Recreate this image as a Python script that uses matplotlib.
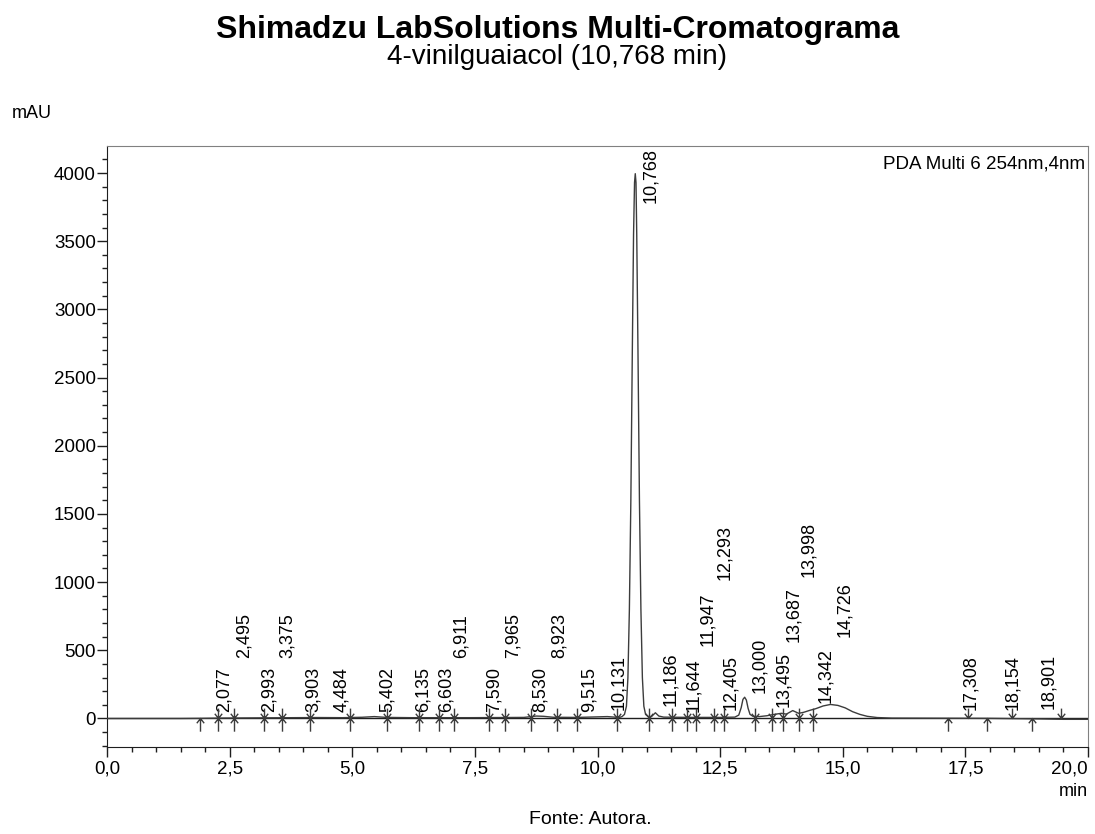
import numpy as np
import matplotlib
matplotlib.use("Agg")
import matplotlib.pyplot as plt
from matplotlib.path import Path
from matplotlib.ticker import MultipleLocator, FuncFormatter
import matplotlib.transforms as mtransforms

plt.rcParams['font.family'] = ['Liberation Sans', 'DejaVu Sans']

# detector trace (min, mAU)
trace_t = [0.0, 1.5, 1.9, 2.3, 2.8, 3.3, 3.8, 4.3, 4.8, 5.2, 5.45, 5.7, 6.2, 6.8,
           7.4, 8.0, 8.5, 8.75, 8.9, 9.1, 9.6, 10.0, 10.2, 10.35, 10.45,
           10.50, 10.55, 10.59, 10.62, 10.65, 10.68, 10.71, 10.735, 10.755,
           10.77, 10.785, 10.80, 10.825, 10.855, 10.885, 10.915, 10.945,
           10.98, 11.03, 11.10, 11.18, 11.25, 11.35, 11.6, 12.0, 12.5, 12.8,
           12.88, 12.93, 12.965, 13.0, 13.035, 13.07, 13.11, 13.17, 13.3,
           13.45, 13.6, 13.75, 13.85, 13.98, 14.1, 14.2, 14.33, 14.45, 14.6,
           14.75, 14.9, 15.05, 15.2, 15.35, 15.5, 15.7, 16.0, 17.0, 18.0,
           19.0, 19.5, 20.0]
trace_y = [0, 0, 1, 3, 4, 5, 6, 7, 6, 9, 14, 8, 6, 6,
           6, 7, 8, 18, 16, 9, 8, 12, 14, 10, 8,
           14, 30, 90, 300, 800, 1600, 2700, 3550, 3930,
           3995, 3930, 3550, 2700, 1600, 800, 300, 90,
           30, 15, 14, 42, 18, 10, 9, 8, 8, 10,
           25, 80, 140, 156, 135, 75, 30, 16, 14,
           20, 30, 38, 32, 58, 38, 45, 60, 72, 92,
           103, 96, 78, 50, 30, 16, 7, 3, 2, 1,
           -3, -6, -6]

# retention times and the height where each label starts (mAU)
peak_rt = [2.077, 2.495, 2.993, 3.375, 3.903, 4.484, 5.402, 6.135, 6.603,
           6.911, 7.590, 7.965, 8.530, 8.923, 9.515, 10.131, 10.768, 11.186,
           11.644, 11.947, 12.293, 12.405, 13.000, 13.495, 13.687, 13.998,
           14.342, 14.726, 17.308, 18.154, 18.901]
label_y = [48, 444, 48, 444, 48, 48, 48, 48, 48,
           444, 48, 444, 48, 444, 48, 60, 3780, 95,
           48, 535, 1013, 59, 190, 81, 558, 1035,
           117, 594, 59, 59, 73]

# integration marks: s = start, b = boundary, e = end
mark_t = [1.89, 2.26, 2.59, 3.20, 3.56, 4.13, 4.95, 5.70, 6.37, 6.76, 7.07,
          7.78, 8.12, 8.65, 9.18, 9.59, 10.39, 11.04, 11.51, 11.83, 12.01,
          12.37, 12.57, 13.22, 13.56, 13.79, 14.11, 14.40, 17.15, 17.56,
          17.95, 18.45, 18.86, 19.45]
mark_kind = ['s'] + ['b'] * 27 + ['s', 'e', 's', 'e', 's', 'e']


def fmt_comma(v, pos):
    return f"{v:.1f}".replace('.', ',')


def mark_path(kind):
    M, L = Path.MOVETO, Path.LINETO
    verts = [(0, -1.0)]
    codes = [M]
    w, h = 0.28, 0.36
    if kind in ('s', 'b'):
        verts += [(0, -1.0), (0, 0), (-w, -h), (0, 0), (w, -h)]
        codes += [M, L, M, L, L]
    if kind in ('e', 'b'):
        verts += [(0, 0.75), (0, 0), (-w, h), (0, 0), (w, h)]
        codes += [M, L, M, L, L]
    return Path(verts, codes)


fig = plt.figure(figsize=(10.95, 8.34), dpi=100)
ax = fig.add_axes([107 / 1095, 87 / 834, 981 / 1095, 601 / 834])

ax.plot(trace_t, trace_y, color='#3c3c3c', lw=1.0, zorder=3)
ax.plot([0, 20], [0, 0], color='#1e1e1e', lw=1.0, zorder=2)

for t, k in zip(mark_t, mark_kind):
    ax.plot([t], [0], marker=mark_path(k), ms=19, mfc='none',
            mec='#3c3c3c', mew=1.0, ls='none', zorder=4)

shift = mtransforms.offset_copy(ax.transData, fig=fig, x=15, y=0, units='dots')
for t, y in zip(peak_rt, label_y):
    ax.text(t, y, f"{t:.3f}".replace('.', ','), transform=shift,
            rotation=90, ha='center', va='bottom', fontsize=13)

ax.set_xlim(0, 20)
ax.set_ylim(-209, 4198)
ax.xaxis.set_major_locator(MultipleLocator(2.5))
ax.xaxis.set_minor_locator(MultipleLocator(0.5))
ax.xaxis.set_major_formatter(FuncFormatter(fmt_comma))
ax.yaxis.set_major_locator(MultipleLocator(500))
ax.yaxis.set_minor_locator(MultipleLocator(100))
ax.tick_params(which='major', length=7, width=1, labelsize=13.5, pad=3,
               color='#1e1e1e')
ax.tick_params(which='minor', length=3.6, width=1, color='#1e1e1e')
ax.tick_params(axis='y', which='major', pad=1)

for side in ('left', 'bottom'):
    ax.spines[side].set_color('#1e1e1e')
for side in ('top', 'right'):
    ax.spines[side].set_color('#808080')

ax.text(0.997, 0.985, 'PDA Multi 6 254nm,4nm', transform=ax.transAxes,
        ha='right', va='top', fontsize=13.5)

fig.text(558 / 1095, 1 - 30 / 834, 'Shimadzu LabSolutions Multi-Cromatograma',
         ha='center', va='center', fontsize=23, fontweight='bold')
fig.text(557 / 1095, 1 - 57 / 834, '4-vinilguaiacol (10,768 min)',
         ha='center', va='center', fontsize=20)
fig.text(12 / 1095, 1 - 113 / 834, 'mAU', ha='left', va='center', fontsize=13)
fig.text(1088 / 1095, 1 - 791 / 834, 'min', ha='right', va='center',
         fontsize=13)
fig.text(590 / 1095, 1 - 820 / 834, 'Fonte: Autora.', ha='center',
         va='center', fontsize=14)

# last x label sits flush with the right edge of the frame
fig.canvas.draw()
for lbl in ax.get_xticklabels():
    if lbl.get_text() == '20,0':
        lbl.set_horizontalalignment('right')

fig.savefig('out.png', dpi=100)
